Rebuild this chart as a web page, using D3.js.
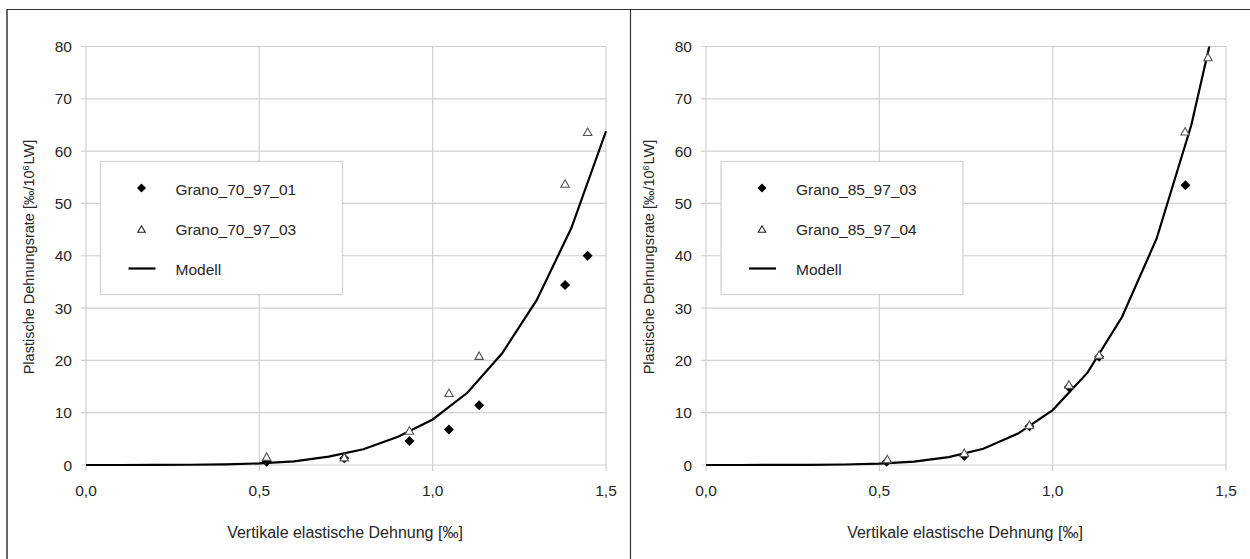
<!DOCTYPE html>
<html>
<head>
<meta charset="utf-8">
<script src="https://cdn.jsdelivr.net/npm/d3@7"></script>
<style>
  body { margin: 0; background: #fff; }
  text { font-family: "Liberation Sans", Arial, sans-serif; fill: #262626; }
</style>
</head>
<body>
<div id="chart"></div>
<script>
// model grid points (x in per mille)
const modelX = [0, 0.1, 0.2, 0.3, 0.4, 0.5, 0.6, 0.7, 0.8, 0.9, 1.0, 1.1, 1.2, 1.3, 1.4, 1.5]

// left panel
const leftModelY = [0, 0, 0.01, 0.05, 0.12, 0.3, 0.7, 1.6, 3.0, 5.4, 8.7, 13.8, 21.3, 31.5, 45.3, 63.8]
const leftDiamondX = [0.521, 0.745, 0.933, 1.047, 1.134, 1.382, 1.447]
const leftDiamondY = [0.6, 1.3, 4.6, 6.8, 11.4, 34.4, 40.0]
const leftTriangleX = [0.521, 0.745, 0.933, 1.047, 1.134, 1.382, 1.447]
const leftTriangleY = [1.6, 1.5, 6.6, 13.8, 20.9, 53.8, 63.7]
const leftNames = ["Grano_70_97_01", "Grano_70_97_03", "Modell"]

// right panel
const rightModelY = [0, 0, 0.01, 0.03, 0.1, 0.25, 0.65, 1.5, 3.1, 6.0, 10.5, 17.6, 28.3, 43.3, 65.0, 94.0]
const rightDiamondX = [0.521, 0.745, 0.933, 1.047, 1.134, 1.383]
const rightDiamondY = [0.6, 1.7, 7.4, 14.9, 20.7, 53.5]
const rightTriangleX = [0.523, 0.745, 0.933, 1.047, 1.134, 1.382, 1.448]
const rightTriangleY = [1.15, 2.35, 7.7, 15.4, 21.1, 63.8, 78.0]
const rightNames = ["Grano_85_97_03", "Grano_85_97_04", "Modell"]

const xTicks = [0, 0.5, 1.0, 1.5]
const yTicks = [0, 10, 20, 30, 40, 50, 60, 70, 80]
const xTitle = "Vertikale elastische Dehnung [‰]"

const W = 1250, H = 559
let svg = d3.select("#chart").append("svg")
    .attr("width", W)
    .attr("height", H)

// outer frame: top, left and divider lines
svg.append("line").attr("x1", 7).attr("x2", W).attr("y1", 9.5).attr("y2", 9.5)
    .attr("stroke", "#333").attr("stroke-width", 1.2)
svg.append("line").attr("x1", 7).attr("x2", 7).attr("y1", 9).attr("y2", H)
    .attr("stroke", "#333").attr("stroke-width", 1.5)
svg.append("line").attr("x1", 630.5).attr("x2", 630.5).attr("y1", 9).attr("y2", H)
    .attr("stroke", "#333").attr("stroke-width", 1.2)

function diamondPath(r) {
    return "M0," + (-r) + "L" + r + ",0L0," + r + "L" + (-r) + ",0Z"
}
function trianglePath(w, h) {
    return "M0," + (-h / 2) + "L" + (w / 2) + "," + (h / 2) + "L" + (-w / 2) + "," + (h / 2) + "Z"
}

function drawPanel(x0, id, modelY, dX, dY, tX, tY, names, legendBox) {
    let left = x0, right = x0 + 520
    let xScale = d3.scaleLinear().domain([0, 1.5]).range([left, right])
    let yScale = d3.scaleLinear().domain([0, 80]).range([465, 46.5])
    let g = svg.append("g")

    // grid
    g.selectAll(".hgrid").data(yTicks).enter().append("line")
        .attr("x1", left - 5).attr("x2", right)
        .attr("y1", d => yScale(d)).attr("y2", d => yScale(d))
        .attr("stroke", "#cfcfcf").attr("stroke-width", 1.2)
    g.selectAll(".vgrid").data(xTicks).enter().append("line")
        .attr("x1", d => xScale(d)).attr("x2", d => xScale(d))
        .attr("y1", yScale(80)).attr("y2", yScale(0) + 6)
        .attr("stroke", "#cfcfcf").attr("stroke-width", 1.2)

    // tick labels
    g.selectAll(".ylab").data(yTicks).enter().append("text")
        .attr("x", left - 14).attr("y", d => yScale(d) + 5.5)
        .attr("text-anchor", "end")
        .style("font-size", "15.5px")
        .text(d => d)
    g.selectAll(".xlab").data(xTicks).enter().append("text")
        .attr("x", d => xScale(d)).attr("y", 495.5)
        .attr("text-anchor", "middle")
        .style("font-size", "15.5px")
        .text(d => d3.format(".1f")(d).replace(".", ","))

    // axis titles
    g.append("text")
        .attr("x", (left + right) / 2 - 1).attr("y", 537.5)
        .attr("text-anchor", "middle")
        .style("font-size", "16px")
        .text(xTitle)
    let yt = g.append("text")
        .attr("transform", "translate(" + (left - 52) + ",257) rotate(-90)")
        .attr("text-anchor", "middle")
        .style("font-size", "14.5px")
    yt.append("tspan").text("Plastische Dehnungsrate [‰/10")
    yt.append("tspan").attr("dy", -5).style("font-size", "9px").text("6")
    yt.append("tspan").attr("dy", 5).attr("dx", 1).text("LW]")

    // model line, clipped to the plot area
    svg.append("clipPath").attr("id", "clip-" + id)
        .append("rect")
        .attr("x", left).attr("y", yScale(80))
        .attr("width", right - left + 2).attr("height", yScale(0) - yScale(80) + 2)
    let lineGen = d3.line()
        .x((d, i) => xScale(modelX[i]))
        .y(d => yScale(d))
    g.append("path")
        .attr("d", lineGen(modelY))
        .attr("clip-path", "url(#clip-" + id + ")")
        .attr("fill", "none")
        .attr("stroke", "#000")
        .attr("stroke-width", 2.2)

    // diamonds
    g.selectAll(".dia").data(dY).enter().append("path")
        .attr("d", diamondPath(5))
        .attr("transform", (d, i) => "translate(" + xScale(dX[i]) + "," + yScale(d) + ")")
        .attr("fill", "#000")
    // triangles
    g.selectAll(".tri").data(tY).enter().append("path")
        .attr("d", trianglePath(8.5, 7.5))
        .attr("transform", (d, i) => "translate(" + xScale(tX[i]) + "," + yScale(d) + ")")
        .attr("fill", "#fff")
        .attr("stroke", "#555")
        .attr("stroke-width", 1.1)

    // legend
    let lg = g.append("g")
    lg.append("rect")
        .attr("x", legendBox[0]).attr("y", 161.5)
        .attr("width", legendBox[1]).attr("height", 133)
        .attr("fill", "#fff").attr("stroke", "#d0d0d0").attr("stroke-width", 1.2)
    let mx = legendBox[0] + 41, tx = legendBox[0] + 75
    lg.append("path").attr("d", diamondPath(4.5))
        .attr("transform", "translate(" + mx + ",188)").attr("fill", "#000")
    lg.append("path").attr("d", trianglePath(7.5, 6.5))
        .attr("transform", "translate(" + mx + ",229)")
        .attr("fill", "#fff").attr("stroke", "#222").attr("stroke-width", 1.1)
    lg.append("line").attr("x1", mx - 13).attr("x2", mx + 14)
        .attr("y1", 268.5).attr("y2", 268.5)
        .attr("stroke", "#000").attr("stroke-width", 2.2)
    lg.selectAll(".ltext").data(names).enter().append("text")
        .attr("x", tx).attr("y", (d, i) => 194.5 + i * 40)
        .style("font-size", "15.5px")
        .text(d => d)
}

drawPanel(86, "left", leftModelY, leftDiamondX, leftDiamondY, leftTriangleX, leftTriangleY, leftNames, [100.5, 242])
drawPanel(706, "right", rightModelY, rightDiamondX, rightDiamondY, rightTriangleX, rightTriangleY, rightNames, [721, 242])
</script>
</body>
</html>
